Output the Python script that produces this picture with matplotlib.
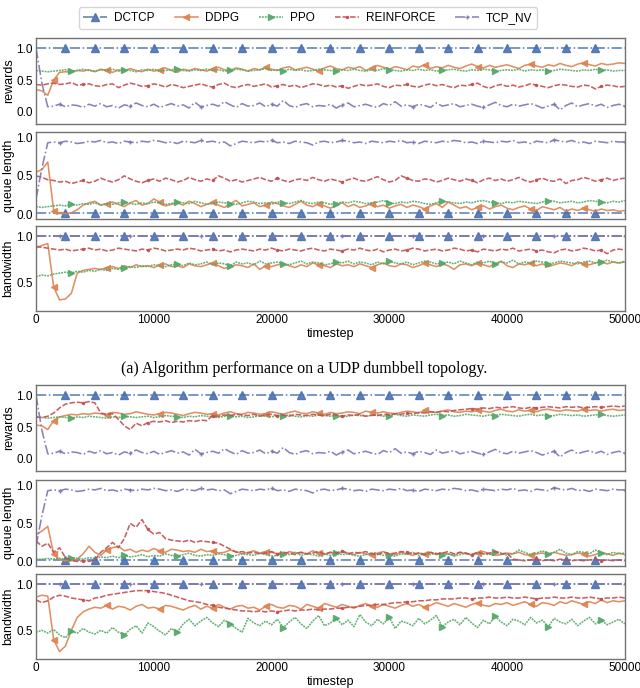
import numpy as np
import matplotlib
matplotlib.use("Agg")
import matplotlib.pyplot as plt

plt.rcParams['font.family'] = ['Liberation Sans', 'DejaVu Sans']

names = ['DCTCP', 'DDPG', 'PPO', 'REINFORCE', 'TCP_NV']
timestep = np.arange(0, 50001, 500)

# constant levels
dctcp_reward = 1.0
dctcp_queue = 0.02
dctcp_bw = 1.0
tcpnv_bw = 1.0

# values below are in hundredths, one sample every 500 steps
tcpnv_reward = [
    100, 45, 8, 9, 12, 8, 11, 10, 7, 12,
    9, 13, 8, 10, 6, 11, 9, 14, 10, 8,
    12, 7, 10, 13, 9, 11, 6, 15, 8, 10,
    12, 9, 16, 11, 7, 13, 9, 10, 14, 8,
    12, 9, 18, 10, 7, 11, 13, 8, 10, 9,
    12, 6, 11, 14, 8, 10, 12, 9, 7, 13,
    10, 16, 9, 11, 8, 12, 10, 7, 14, 9,
    11, 13, 8, 10, 12, 9, 7, 11, 15, 10,
    8, 12, 9, 11, 13, 10, 6, 9, 12, 3,
    10, 14, 8, 11, 13, 9, 12, 7, 10, 12,
    9]
tcpnv_queue = [
    20, 60, 93, 94, 93, 95, 94, 92, 93, 95,
    94, 96, 93, 94, 92, 95, 94, 93, 95, 94,
    96, 95, 93, 94, 92, 95, 94, 93, 96, 94,
    95, 93, 94, 89, 92, 95, 94, 93, 95, 94,
    96, 93, 94, 92, 95, 94, 93, 90, 94, 95,
    93, 94, 96, 95, 93, 94, 92, 95, 94, 93,
    95, 94, 96, 93, 94, 92, 95, 94, 93, 95,
    94, 96, 95, 93, 94, 92, 95, 94, 93, 95,
    94, 96, 93, 94, 92, 95, 94, 93, 97, 95,
    94, 96, 93, 94, 92, 95, 94, 93, 95, 94,
    94]

# (a) UDP dumbbell
a_reward_ddpg = [
    35, 33, 26, 50, 62, 63, 62, 65, 64, 66,
    63, 67, 65, 62, 66, 64, 68, 65, 63, 67,
    64, 66, 69, 65, 62, 67, 65, 68, 66, 64,
    68, 70, 66, 65, 69, 67, 64, 68, 66, 70,
    67, 65, 69, 71, 66, 68, 70, 67, 64, 69,
    72, 68, 66, 70, 68, 71, 65, 69, 73, 70,
    67, 71, 69, 66, 72, 70, 74, 68, 71, 69,
    73, 70, 68, 72, 75, 71, 69, 73, 70, 72,
    74, 71, 68, 73, 75, 72, 70, 74, 72, 76,
    73, 71, 75, 77, 74, 72, 76, 74, 75, 77,
    76]
a_reward_ppo = [
    65, 64, 63, 64, 65, 66, 64, 65, 67, 65,
    64, 66, 65, 67, 64, 66, 65, 63, 66, 65,
    67, 64, 65, 66, 68, 65, 64, 66, 65, 67,
    65, 66, 64, 65, 67, 66, 64, 65, 66, 68,
    65, 66, 64, 67, 65, 66, 64, 65, 67, 66,
    65, 64, 66, 65, 67, 65, 64, 66, 65, 68,
    66, 65, 64, 66, 65, 67, 65, 66, 64, 65,
    66, 67, 65, 64, 66, 65, 67, 66, 64, 65,
    66, 65, 67, 64, 66, 65, 66, 64, 65, 67,
    66, 65, 64, 66, 65, 67, 65, 66, 64, 65,
    65]
a_reward_reinforce = [
    43, 42, 44, 45, 43, 44, 46, 42, 43, 44,
    41, 40, 43, 44, 38, 42, 45, 43, 40, 41,
    44, 42, 39, 43, 41, 38, 40, 42, 44, 41,
    39, 43, 45, 40, 38, 41, 43, 40, 42, 44,
    39, 41, 43, 40, 42, 38, 41, 44, 43, 40,
    42, 39, 41, 37, 40, 43, 41, 42, 44, 40,
    38, 42, 41, 43, 40, 39, 42, 44, 41, 43,
    40, 38, 42, 41, 43, 45, 40, 37, 41, 43,
    40, 42, 39, 41, 44, 42, 40, 38, 41, 43,
    42, 40, 39, 42, 41, 36, 40, 42, 41, 39,
    40]
a_queue_ddpg = [
    55, 58, 68, 5, 1, 1, 2, 6, 12, 15,
    17, 12, 14, 16, 13, 10, 15, 18, 12, 14,
    20, 16, 11, 13, 15, 12, 17, 14, 10, 13,
    16, 12, 9, 14, 18, 11, 13, 15, 10, 12,
    16, 14, 11, 9, 13, 17, 12, 10, 14, 11,
    8, 12, 15, 10, 13, 9, 11, 14, 10, 12,
    8, 11, 13, 9, 12, 10, 7, 11, 14, 9,
    16, 12, 8, 10, 6, 9, 11, 7, 10, 12,
    8, 6, 9, 11, 7, 5, 10, 8, 6, 9,
    4, 7, 5, 8, 6, 4, 7, 5, 6, 4,
    5]
a_queue_ppo = [
    10, 9, 10, 11, 12, 11, 13, 12, 14, 13,
    15, 12, 14, 13, 15, 16, 14, 13, 15, 14,
    16, 15, 13, 14, 16, 15, 14, 17, 15, 13,
    14, 16, 15, 14, 13, 15, 17, 16, 14, 15,
    13, 16, 15, 14, 16, 18, 15, 14, 16, 15,
    13, 14, 16, 15, 17, 16, 14, 15, 16, 18,
    15, 14, 16, 15, 17, 16, 14, 13, 15, 17,
    16, 15, 14, 16, 15, 17, 18, 16, 15, 14,
    16, 15, 17, 16, 15, 14, 16, 18, 17, 15,
    16, 17, 15, 16, 18, 17, 16, 15, 17, 16,
    18]
a_queue_reinforce = [
    50, 48, 45, 44, 42, 43, 40, 42, 44, 41,
    43, 47, 44, 42, 45, 50, 46, 43, 41, 44,
    46, 43, 47, 45, 42, 44, 48, 45, 43, 46,
    44, 50, 47, 43, 45, 42, 44, 46, 48, 45,
    43, 47, 44, 42, 45, 46, 44, 48, 45, 43,
    46, 44, 42, 45, 47, 44, 43, 46, 49, 45,
    42, 44, 50, 47, 44, 43, 46, 45, 42, 44,
    47, 45, 43, 46, 44, 41, 45, 47, 44, 46,
    43, 45, 48, 44, 42, 45, 47, 44, 43, 46,
    40, 44, 45, 48, 46, 43, 45, 47, 44, 46,
    47]
a_bw_ddpg = [
    87, 90, 92, 45, 31, 32, 38, 60, 63, 64,
    65, 64, 66, 67, 65, 68, 66, 69, 67, 68,
    66, 69, 70, 67, 68, 66, 70, 68, 67, 69,
    71, 68, 65, 67, 69, 68, 66, 70, 64, 68,
    67, 69, 70, 68, 66, 69, 67, 71, 69, 68,
    66, 70, 68, 69, 67, 70, 68, 66, 69, 71,
    68, 67, 70, 69, 66, 68, 71, 69, 67, 70,
    68, 64, 69, 70, 68, 71, 69, 67, 70, 73,
    68, 66, 70, 69, 71, 68, 70, 67, 69, 71,
    70, 68, 72, 70, 69, 71, 73, 70, 72, 71,
    72]
a_bw_ppo = [
    56, 58, 57, 59, 60, 61, 60, 62, 61, 63,
    62, 64, 63, 65, 64, 66, 67, 66, 68, 67,
    69, 68, 67, 69, 70, 68, 71, 69, 70, 72,
    69, 71, 70, 68, 72, 70, 71, 69, 73, 70,
    71, 72, 70, 69, 71, 73, 70, 72, 71, 69,
    70, 72, 71, 73, 70, 72, 71, 69, 72, 70,
    73, 71, 70, 72, 69, 71, 73, 72, 70, 71,
    72, 70, 73, 71, 69, 72, 71, 73, 70, 72,
    71, 74, 70, 72, 71, 73, 72, 70, 71, 73,
    72, 71, 70, 72, 73, 71, 72, 74, 72, 71,
    73]
a_bw_reinforce = [
    89, 88, 87, 86, 85, 86, 84, 85, 86, 87,
    85, 86, 84, 85, 87, 86, 85, 84, 86, 85,
    87, 86, 84, 85, 86, 85, 87, 86, 84, 85,
    86, 84, 85, 83, 85, 86, 85, 84, 86, 85,
    87, 85, 84, 86, 85, 84, 86, 87, 85, 84,
    86, 85, 84, 86, 85, 87, 85, 84, 86, 83,
    85, 86, 84, 85, 87, 86, 84, 85, 86, 84,
    85, 87, 86, 84, 85, 83, 86, 85, 84, 86,
    85, 87, 84, 85, 86, 84, 85, 83, 82, 85,
    86, 84, 85, 87, 86, 84, 85, 81, 85, 86,
    85]

# (b) second topology
b_reward_ddpg = [
    53, 52, 46, 60, 66, 68, 70, 69, 71, 70,
    72, 71, 69, 73, 72, 70, 71, 74, 72, 70,
    69, 71, 73, 72, 70, 68, 71, 73, 72, 70,
    71, 69, 72, 74, 71, 70, 73, 72, 70, 71,
    74, 72, 70, 73, 75, 72, 71, 74, 72, 70,
    73, 71, 72, 74, 73, 71, 75, 73, 72, 74,
    72, 71, 73, 75, 74, 72, 76, 74, 73, 75,
    77, 74, 73, 75, 74, 76, 75, 73, 76, 78,
    75, 74, 77, 75, 76, 74, 77, 78, 76, 75,
    77, 76, 75, 78, 76, 77, 75, 77, 78, 76,
    77]
b_reward_ppo = [
    66, 65, 64, 65, 66, 65, 64, 66, 65, 67,
    66, 65, 64, 66, 65, 67, 66, 65, 66, 67,
    65, 66, 68, 67, 66, 65, 67, 66, 68, 67,
    66, 65, 67, 68, 66, 67, 65, 66, 68, 67,
    66, 68, 67, 69, 67, 66, 68, 67, 69, 68,
    67, 68, 66, 67, 69, 68, 67, 68, 69, 67,
    68, 70, 68, 67, 69, 68, 67, 69, 70, 68,
    69, 67, 68, 70, 69, 68, 67, 69, 68, 70,
    69, 68, 67, 69, 70, 68, 69, 67, 68, 70,
    69, 68, 69, 67, 68, 69, 70, 68, 67, 68,
    69]
b_reward_reinforce = [
    66, 65, 67, 72, 80, 86, 88, 89, 88, 90,
    88, 72, 70, 71, 62, 52, 46, 56, 52, 57,
    59, 58, 60, 57, 59, 58, 60, 59, 61, 60,
    68, 67, 69, 68, 70, 69, 68, 70, 67, 69,
    70, 68, 69, 67, 70, 69, 68, 70, 69, 68,
    70, 69, 67, 69, 68, 70, 67, 69, 68, 70,
    69, 71, 70, 72, 71, 73, 72, 74, 73, 75,
    74, 76, 77, 78, 79, 78, 80, 79, 81, 80,
    81, 82, 80, 79, 81, 80, 81, 82, 81, 80,
    82, 81, 82, 80, 81, 82, 81, 82, 83, 82,
    83]
b_queue_ddpg = [
    35, 40, 46, 10, 2, 1, 1, 3, 10, 20,
    12, 8, 15, 18, 20, 14, 16, 12, 15, 13,
    17, 14, 12, 16, 15, 13, 14, 12, 16, 13,
    14, 11, 12, 15, 13, 10, 12, 14, 11, 13,
    12, 10, 9, 13, 11, 12, 10, 14, 11, 9,
    12, 10, 13, 11, 9, 12, 10, 8, 11, 13,
    10, 9, 12, 10, 8, 11, 10, 12, 9, 11,
    10, 8, 12, 10, 9, 11, 13, 10, 8, 9,
    11, 10, 12, 9, 8, 10, 11, 9, 12, 10,
    8, 9, 11, 10, 7, 9, 12, 10, 8, 11,
    9]
b_queue_ppo = [
    3, 3, 4, 3, 4, 3, 5, 4, 3, 5,
    4, 6, 5, 7, 5, 8, 6, 7, 9, 6,
    8, 7, 10, 8, 7, 9, 11, 8, 7, 9,
    8, 10, 9, 7, 8, 10, 9, 8, 11, 9,
    7, 8, 10, 9, 12, 8, 10, 9, 7, 10,
    8, 11, 9, 10, 8, 7, 9, 11, 10, 8,
    9, 7, 10, 9, 12, 8, 10, 9, 11, 8,
    10, 7, 9, 11, 8, 12, 10, 9, 13, 11,
    8, 10, 15, 12, 9, 11, 14, 10, 12, 16,
    11, 9, 13, 12, 10, 15, 11, 9, 12, 10,
    11]
b_queue_reinforce = [
    27, 20, 24, 12, 18, 5, 1, 0, 1, 0,
    2, 12, 18, 25, 18, 30, 50, 45, 55, 42,
    36, 38, 30, 28, 27, 26, 28, 25, 27, 26,
    25, 24, 20, 16, 12, 13, 11, 12, 10, 11,
    13, 10, 12, 11, 9, 12, 10, 11, 13, 10,
    12, 11, 14, 10, 12, 11, 13, 10, 9, 12,
    10, 11, 13, 12, 10, 11, 9, 12, 10, 11,
    13, 10, 12, 11, 9, 12, 10, 11, 13, 10,
    11, 3, 2, 1, 2, 3, 1, 2, 1, 3,
    2, 1, 2, 1, 2, 3, 1, 2, 1, 2,
    1]
b_bw_ddpg = [
    86, 88, 87, 40, 27, 33, 50, 64, 70, 73,
    75, 74, 77, 73, 76, 75, 72, 76, 78, 74,
    75, 73, 77, 76, 74, 72, 75, 77, 73, 76,
    74, 78, 75, 73, 76, 77, 74, 75, 72, 76,
    78, 75, 74, 77, 76, 73, 78, 76, 74, 79,
    77, 75, 78, 76, 74, 77, 79, 76, 75, 78,
    76, 74, 77, 79, 76, 78, 75, 77, 80, 78,
    76, 79, 77, 75, 78, 80, 77, 76, 79, 78,
    80, 77, 79, 81, 78, 76, 80, 79, 77, 81,
    79, 82, 80, 78, 81, 79, 83, 80, 82, 81,
    82]
b_bw_ppo = [
    48, 50, 47, 51, 45, 42, 49, 47, 52, 48,
    46, 50, 47, 53, 48, 45, 51, 55, 47, 58,
    54, 49, 45, 52, 48, 57, 62, 55, 60, 64,
    58, 54, 61, 57, 52, 48, 63, 58, 55, 60,
    56, 62, 53, 59, 64, 57, 52, 60, 66, 55,
    58, 63, 56, 61, 54, 67, 59, 55, 62, 57,
    64, 52, 60, 58, 55, 63, 57, 61, 66, 54,
    59, 62, 56, 64, 58, 53, 61, 57, 65, 59,
    55, 62, 60, 56, 64, 58, 61, 54, 63, 59,
    57, 62, 55, 60, 64, 57, 61, 56, 59, 62,
    57]
b_bw_reinforce = [
    83, 80, 82, 86, 88, 87, 85, 84, 83, 82,
    85, 86, 88, 89, 90, 91, 92, 93, 93, 93,
    92, 91, 90, 88, 86, 84, 82, 81, 80, 78,
    77, 75, 74, 73, 72, 71, 71, 70, 71, 70,
    71, 70, 71, 72, 71, 72, 72, 73, 72, 73,
    73, 74, 74, 75, 75, 76, 77, 77, 78, 78,
    79, 80, 80, 81, 81, 82, 82, 83, 83, 84,
    84, 84, 85, 85, 84, 85, 85, 86, 85, 85,
    86, 85, 85, 86, 85, 84, 85, 85, 86, 85,
    85, 86, 85, 85, 86, 85, 84, 85, 85, 86,
    85]

styles = {
    'DCTCP': dict(color='#4C72B0', ls='-.', marker='^', ms=5.5,
                  markevery=list(range(5, 100, 5))),
    'DDPG': dict(color='#DD8452', ls='-', marker='<', ms=5, markevery=(3, 9)),
    'PPO': dict(color='#55A868', ls=(0, (1.2, 0.6)), marker='>', ms=5,
                markevery=(6, 9)),
    'REINFORCE': dict(color='#C44E52', ls=(0, (3.5, 1.2)), marker='.', ms=3,
                      markevery=(8, 11)),
    'TCP_NV': dict(color='#8172B3', ls='-.', marker='+', ms=2.5, markevery=(4, 12)),
}


def series(v):
    if np.isscalar(v):
        return np.full(len(timestep), v, dtype=float)
    return np.array(v, dtype=float) / 100.0


panels = [
    # (bottom, height, ylabel, ylim, yticks, data)
    (0.8198, 0.125, 'rewards', (-0.19, 1.16), [0.0, 0.5, 1.0],
     [dctcp_reward, a_reward_ddpg, a_reward_ppo, a_reward_reinforce, tcpnv_reward]),
    (0.6817, 0.1265, 'queue length', (-0.06, 1.07), [0.0, 0.5, 1.0],
     [dctcp_queue, a_queue_ddpg, a_queue_ppo, a_queue_reinforce, tcpnv_queue]),
    (0.5480, 0.1235, 'bandwidth', (0.19, 1.11), [0.5, 1.0],
     [dctcp_bw, a_bw_ddpg, a_bw_ppo, a_bw_reinforce, tcpnv_bw]),
    (0.3154, 0.125, 'rewards', (-0.19, 1.16), [0.0, 0.5, 1.0],
     [dctcp_reward, b_reward_ddpg, b_reward_ppo, b_reward_reinforce, tcpnv_reward]),
    (0.1773, 0.125, 'queue length', (-0.06, 1.07), [0.0, 0.5, 1.0],
     [dctcp_queue, b_queue_ddpg, b_queue_ppo, b_queue_reinforce, tcpnv_queue]),
    (0.0422, 0.1235, 'bandwidth', (0.19, 1.11), [0.5, 1.0],
     [dctcp_bw, b_bw_ddpg, b_bw_ppo, b_bw_reinforce, tcpnv_bw]),
]

fig = plt.figure(figsize=(6.4, 6.88), dpi=100)
axes = []
for i, (bottom, height, ylab, ylim, yticks, data) in enumerate(panels):
    ax = fig.add_axes([0.05625, bottom, 0.92, height])
    for name, vals in zip(names, data):
        ax.plot(timestep, series(vals), label=name, lw=1.15, alpha=0.9,
                mec=styles[name]['color'], **styles[name])
    ax.set_xlim(0, 50000)
    ax.set_ylim(*ylim)
    ax.set_yticks(yticks)
    ax.set_ylabel(ylab, fontsize=9, labelpad=1)
    ax.tick_params(length=0, labelsize=8.5, pad=2.5)
    ax.set_xticks(range(0, 50001, 10000))
    if i in (2, 5):
        ax.set_xlabel('timestep', fontsize=9, labelpad=1)
    else:
        ax.set_xticklabels([])
    for s in ax.spines.values():
        s.set_color('0.45')
        s.set_linewidth(1.0)
    axes.append(ax)

fig.align_ylabels(axes[:3])
fig.align_ylabels(axes[3:])

handles, labels = axes[0].get_legend_handles_labels()
fig.legend(handles, labels, loc='upper center', bbox_to_anchor=(0.481, 0.998),
           ncol=5, fontsize=8.5, frameon=True, edgecolor='0.8', fancybox=True,
           handlelength=2.0, columnspacing=1.7, handletextpad=0.6, borderpad=0.4)

fig.text(0.475, 0.463, '(a) Algorithm performance on a UDP dumbbell topology.',
         ha='center', va='center', fontsize=11.5, family='Liberation Serif')

fig.savefig('out.png', dpi=100)
